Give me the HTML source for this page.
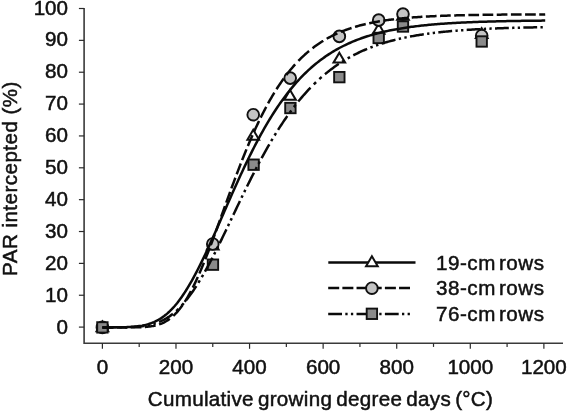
<!DOCTYPE html>
<html><head><meta charset="utf-8"><title>PAR intercepted</title>
<style>
html,body{margin:0;padding:0;background:#fff;}
body{width:567px;height:411px;position:relative;overflow:hidden;font-family:"Liberation Sans",sans-serif;color:#111;}
</style></head><body>
<svg width="567" height="411" viewBox="0 0 567 411" style="position:absolute;left:0;top:0;will-change:transform;opacity:0.999">
<g stroke="#3a3a3a" stroke-width="1.6" fill="none">
<path d="M84.1,7.90 L84.1,343.2 L563,343.2"/>
</g>
<g stroke="#2a2a2a" stroke-width="1.2" fill="none">
<path d="M78.90,327.10 L84.1,327.10"/>
<path d="M78.90,295.24 L84.1,295.24"/>
<path d="M78.90,263.38 L84.1,263.38"/>
<path d="M78.90,231.52 L84.1,231.52"/>
<path d="M78.90,199.66 L84.1,199.66"/>
<path d="M78.90,167.80 L84.1,167.80"/>
<path d="M78.90,135.94 L84.1,135.94"/>
<path d="M78.90,104.08 L84.1,104.08"/>
<path d="M78.90,72.22 L84.1,72.22"/>
<path d="M78.90,40.36 L84.1,40.36"/>
<path d="M78.90,8.50 L84.1,8.50"/>
<path d="M102.40,343.2 L102.40,348.8"/>
<path d="M139.19,343.2 L139.19,346.9"/>
<path d="M175.98,343.2 L175.98,348.8"/>
<path d="M212.77,343.2 L212.77,346.9"/>
<path d="M249.56,343.2 L249.56,348.8"/>
<path d="M286.35,343.2 L286.35,346.9"/>
<path d="M323.14,343.2 L323.14,348.8"/>
<path d="M359.93,343.2 L359.93,346.9"/>
<path d="M396.72,343.2 L396.72,348.8"/>
<path d="M433.51,343.2 L433.51,346.9"/>
<path d="M470.30,343.2 L470.30,348.8"/>
<path d="M507.09,343.2 L507.09,346.9"/>
<path d="M543.88,343.2 L543.88,348.8"/>
</g>
<path d="M102.40,321.40 L108.24,331.35 L96.56,331.35 Z" fill="#fff" stroke="#111" stroke-width="2.0" stroke-linejoin="miter"/>
<circle cx="102.40" cy="327.40" r="5.85" fill="#c4c4c4" stroke="#111" stroke-width="1.9"/>
<rect x="97.20" y="322.20" width="10.4" height="10.4" fill="#8a8a8a" stroke="#111" stroke-width="1.9"/>
<path d="M212.77,239.57 L218.61,249.52 L206.93,249.52 Z" fill="#fff" stroke="#111" stroke-width="2.0" stroke-linejoin="miter"/>
<circle cx="212.77" cy="243.98" r="5.85" fill="#c4c4c4" stroke="#111" stroke-width="1.9"/>
<rect x="207.75" y="259.48" width="10.4" height="10.4" fill="#8a8a8a" stroke="#111" stroke-width="1.9"/>
<path d="M253.24,129.72 L259.08,139.67 L247.40,139.67 Z" fill="#fff" stroke="#111" stroke-width="2.0" stroke-linejoin="miter"/>
<circle cx="253.24" cy="114.71" r="5.85" fill="#c4c4c4" stroke="#111" stroke-width="1.9"/>
<rect x="248.41" y="159.50" width="10.4" height="10.4" fill="#8a8a8a" stroke="#111" stroke-width="1.9"/>
<path d="M290.03,89.92 L295.87,99.87 L284.19,99.87 Z" fill="#fff" stroke="#111" stroke-width="2.0" stroke-linejoin="miter"/>
<circle cx="290.21" cy="78.09" r="5.85" fill="#c4c4c4" stroke="#111" stroke-width="1.9"/>
<rect x="285.20" y="102.82" width="10.4" height="10.4" fill="#8a8a8a" stroke="#111" stroke-width="1.9"/>
<path d="M339.33,52.67 L345.17,62.62 L333.49,62.62 Z" fill="#fff" stroke="#111" stroke-width="2.0" stroke-linejoin="miter"/>
<circle cx="339.33" cy="36.38" r="5.85" fill="#c4c4c4" stroke="#111" stroke-width="1.9"/>
<rect x="334.13" y="71.94" width="10.4" height="10.4" fill="#8a8a8a" stroke="#111" stroke-width="1.9"/>
<path d="M378.69,23.70 L384.53,33.65 L372.85,33.65 Z" fill="#fff" stroke="#111" stroke-width="2.0" stroke-linejoin="miter"/>
<circle cx="378.69" cy="20.14" r="5.85" fill="#c4c4c4" stroke="#111" stroke-width="1.9"/>
<rect x="373.49" y="32.77" width="10.4" height="10.4" fill="#8a8a8a" stroke="#111" stroke-width="1.9"/>
<path d="M402.97,9.69 L408.81,19.64 L397.13,19.64 Z" fill="#fff" stroke="#111" stroke-width="2.0" stroke-linejoin="miter"/>
<circle cx="402.97" cy="14.09" r="5.85" fill="#c4c4c4" stroke="#111" stroke-width="1.9"/>
<rect x="397.77" y="21.31" width="10.4" height="10.4" fill="#8a8a8a" stroke="#111" stroke-width="1.9"/>
<path d="M481.70,28.15 L487.54,38.10 L475.86,38.10 Z" fill="#fff" stroke="#111" stroke-width="2.0" stroke-linejoin="miter"/>
<circle cx="481.70" cy="35.75" r="5.85" fill="#c4c4c4" stroke="#111" stroke-width="1.9"/>
<rect x="476.50" y="36.28" width="10.4" height="10.4" fill="#8a8a8a" stroke="#111" stroke-width="1.9"/>
<g fill="none" stroke="#0a0a0a" stroke-width="2.5">
<path d="M102.40,327.40 L103.87,327.40 L105.34,327.39 L106.81,327.39 L108.29,327.39 L109.76,327.38 L111.23,327.38 L112.70,327.37 L114.17,327.36 L115.64,327.35 L117.12,327.34 L118.59,327.32 L120.06,327.30 L121.53,327.28 L123.00,327.24 L124.47,327.20 L125.95,327.16 L127.42,327.10 L128.89,327.03 L130.36,326.95 L131.83,326.86 L133.30,326.75 L134.78,326.62 L136.25,326.47 L137.72,326.30 L139.19,326.10 L140.66,325.87 L142.13,325.62 L143.60,325.33 L145.08,325.00 L146.55,324.63 L148.02,324.22 L149.49,323.76 L150.96,323.26 L152.43,322.70 L153.91,322.09 L155.38,321.42 L156.85,320.68 L158.32,319.89 L159.79,319.02 L161.26,318.09 L162.74,317.08 L164.21,316.00 L165.68,314.84 L167.15,313.61 L168.62,312.29 L170.09,310.90 L171.57,309.42 L173.04,307.85 L174.51,306.21 L175.98,304.48 L177.45,302.67 L178.92,300.77 L180.39,298.79 L181.87,296.72 L183.34,294.58 L184.81,292.35 L186.28,290.04 L187.75,287.66 L189.22,285.20 L190.70,282.67 L192.17,280.07 L193.64,277.40 L195.11,274.66 L196.58,271.86 L198.05,269.00 L199.53,266.09 L201.00,263.12 L202.47,260.10 L203.94,257.03 L205.41,253.92 L206.88,250.77 L208.36,247.58 L209.83,244.36 L211.30,241.11 L212.77,237.84 L214.24,234.54 L215.71,231.22 L217.18,227.88 L218.66,224.54 L220.13,221.18 L221.60,217.82 L223.07,214.45 L224.54,211.08 L226.01,207.72 L227.49,204.36 L228.96,201.01 L230.43,197.68 L231.90,194.35 L233.37,191.04 L234.84,187.75 L236.32,184.49 L237.79,181.24 L239.26,178.02 L240.73,174.82 L242.20,171.66 L243.67,168.52 L245.15,165.41 L246.62,162.34 L248.09,159.31 L249.56,156.30 L251.03,153.34 L252.50,150.41 L253.97,147.52 L255.45,144.68 L256.92,141.87 L258.39,139.10 L259.86,136.38 L261.33,133.69 L262.80,131.05 L264.28,128.45 L265.75,125.90 L267.22,123.39 L268.69,120.92 L270.16,118.50 L271.63,116.12 L273.11,113.79 L274.58,111.50 L276.05,109.25 L277.52,107.05 L278.99,104.89 L280.46,102.77 L281.94,100.70 L283.41,98.66 L284.88,96.67 L286.35,94.73 L287.82,92.82 L289.29,90.96 L290.76,89.13 L292.24,87.35 L293.71,85.60 L295.18,83.90 L296.65,82.23 L298.12,80.60 L299.59,79.01 L301.07,77.45 L302.54,75.93 L304.01,74.45 L305.48,73.00 L306.95,71.59 L308.42,70.21 L309.90,68.86 L311.37,67.55 L312.84,66.27 L314.31,65.02 L315.78,63.80 L317.25,62.61 L318.73,61.46 L320.20,60.33 L321.67,59.23 L323.14,58.15 L324.61,57.11 L326.08,56.09 L327.55,55.10 L329.03,54.13 L330.50,53.19 L331.97,52.27 L333.44,51.38 L334.91,50.51 L336.38,49.66 L337.86,48.84 L339.33,48.03 L340.80,47.25 L342.27,46.49 L343.74,45.75 L345.21,45.03 L346.69,44.33 L348.16,43.65 L349.63,42.99 L351.10,42.34 L352.57,41.71 L354.04,41.10 L355.52,40.51 L356.99,39.93 L358.46,39.37 L359.93,38.82 L361.40,38.29 L362.87,37.77 L364.34,37.27 L365.82,36.78 L367.29,36.31 L368.76,35.84 L370.23,35.40 L371.70,34.96 L373.17,34.53 L374.65,34.12 L376.12,33.72 L377.59,33.33 L379.06,32.95 L380.53,32.58 L382.00,32.23 L383.48,31.88 L384.95,31.54 L386.42,31.21 L387.89,30.89 L389.36,30.58 L390.83,30.28 L392.31,29.99 L393.78,29.71 L395.25,29.43 L396.72,29.16 L398.19,28.90 L399.66,28.65 L401.13,28.40 L402.61,28.16 L404.08,27.93 L405.55,27.70 L407.02,27.48 L408.49,27.27 L409.96,27.06 L411.44,26.86 L412.91,26.67 L414.38,26.48 L415.85,26.30 L417.32,26.12 L418.79,25.94 L420.27,25.77 L421.74,25.61 L423.21,25.45 L424.68,25.30 L426.15,25.15 L427.62,25.00 L429.10,24.86 L430.57,24.72 L432.04,24.59 L433.51,24.46 L434.98,24.33 L436.45,24.21 L437.92,24.09 L439.40,23.98 L440.87,23.87 L442.34,23.76 L443.81,23.65 L445.28,23.55 L446.75,23.45 L448.23,23.35 L449.70,23.26 L451.17,23.17 L452.64,23.08 L454.11,23.00 L455.58,22.91 L457.06,22.83 L458.53,22.75 L460.00,22.68 L461.47,22.60 L462.94,22.53 L464.41,22.46 L465.89,22.39 L467.36,22.33 L468.83,22.26 L470.30,22.20 L471.77,22.14 L473.24,22.08 L474.71,22.03 L476.19,21.97 L477.66,21.92 L479.13,21.87 L480.60,21.82 L482.07,21.77 L483.54,21.72 L485.02,21.67 L486.49,21.63 L487.96,21.58 L489.43,21.54 L490.90,21.50 L492.37,21.46 L493.85,21.42 L495.32,21.39 L496.79,21.35 L498.26,21.31 L499.73,21.28 L501.20,21.25 L502.68,21.21 L504.15,21.18 L505.62,21.15 L507.09,21.12 L508.56,21.09 L510.03,21.07 L511.50,21.04 L512.98,21.01 L514.45,20.99 L515.92,20.96 L517.39,20.94 L518.86,20.92 L520.33,20.89 L521.81,20.87 L523.28,20.85 L524.75,20.83 L526.22,20.81 L527.69,20.79 L529.16,20.77 L530.64,20.75 L532.11,20.73 L533.58,20.72 L535.05,20.70 L536.52,20.68 L537.99,20.67 L539.47,20.65 L540.94,20.64 L542.41,20.62 L543.88,20.61 L545.20,20.60"/>
<path d="M102.40,327.40 L103.50,327.40 L104.61,327.40 L105.71,327.40 L106.82,327.40 L107.92,327.40 L109.02,327.40 L110.13,327.40 L111.23,327.40 L112.33,327.40 L113.10,327.40 M116.57,327.40 L116.75,327.40 L117.85,327.40 L118.96,327.40 L120.06,327.40 L121.16,327.40 L122.27,327.40 L123.37,327.39 L124.48,327.39 L125.58,327.39 L126.68,327.39 L127.27,327.39 M130.74,327.37 L131.10,327.37 L132.20,327.36 L133.31,327.35 L134.41,327.33 L135.51,327.32 L136.62,327.29 L137.72,327.27 L138.82,327.24 L139.93,327.21 L141.03,327.16 L141.44,327.15 M144.91,326.95 L145.45,326.91 L146.55,326.82 L147.66,326.72 L148.76,326.60 L149.86,326.46 L150.97,326.31 L152.07,326.13 L153.17,325.94 L154.28,325.71 L155.38,325.46 L155.61,325.41 M159.08,324.41 L159.80,324.16 L160.90,323.75 L162.00,323.30 L163.11,322.80 L164.21,322.26 L165.32,321.68 L166.42,321.04 L167.52,320.36 L168.63,319.62 L169.73,318.83 L169.78,318.79 M173.25,315.91 L174.15,315.06 L175.25,313.97 L176.35,312.81 L177.46,311.59 L178.56,310.30 L179.66,308.94 L180.77,307.51 L181.87,306.02 L182.40,305.27 M184.75,301.80 L185.18,301.12 L186.29,299.35 L187.39,297.52 L188.49,295.61 L189.60,293.64 L190.70,291.61 L190.97,291.10 M192.77,287.63 L192.91,287.35 L194.01,285.12 L195.12,282.84 L196.22,280.49 L197.33,278.09 L197.85,276.93 M199.39,273.46 L199.53,273.13 L200.64,270.57 L201.74,267.97 L202.84,265.31 L203.89,262.76 M205.28,259.29 L206.16,257.10 L207.26,254.28 L208.36,251.43 L209.45,248.59 M210.77,245.12 L211.67,242.70 L212.78,239.74 L213.88,236.76 L214.74,234.42 M216.01,230.95 L216.09,230.74 L217.19,227.70 L218.30,224.66 L219.40,221.61 L219.89,220.25 M221.14,216.78 L221.61,215.48 L222.71,212.41 L223.82,209.34 L224.92,206.28 L224.99,206.08 M226.24,202.61 L227.13,200.16 L228.23,197.11 L229.33,194.07 L230.12,191.91 M231.39,188.44 L231.54,188.03 L232.65,185.04 L233.75,182.06 L234.85,179.09 L235.36,177.74 M236.67,174.27 L237.06,173.23 L238.17,170.33 L239.27,167.46 L240.37,164.61 L240.78,163.57 M242.14,160.10 L242.58,158.99 L243.68,156.22 L244.79,153.48 L245.89,150.77 L246.45,149.40 M247.90,145.93 L248.10,145.45 L249.20,142.83 L250.31,140.25 L251.41,137.70 L252.49,135.23 M254.04,131.76 L254.72,130.26 L255.83,127.84 L256.93,125.47 L258.03,123.12 L259.02,121.06 M260.71,117.59 L261.34,116.31 L262.45,114.11 L263.55,111.95 L264.66,109.82 L265.76,107.73 L266.20,106.89 M268.09,103.42 L269.07,101.66 L270.17,99.71 L271.28,97.80 L272.38,95.92 L273.49,94.07 L274.31,92.72 M276.47,89.25 L276.80,88.74 L277.90,87.03 L279.00,85.35 L280.11,83.71 L281.21,82.10 L282.32,80.52 L283.42,78.97 L283.72,78.55 M286.30,75.08 L286.73,74.51 L287.84,73.09 L288.94,71.69 L290.04,70.33 L291.15,68.99 L292.25,67.68 L293.35,66.40 L294.46,65.15 L295.15,64.38 M298.38,60.91 L298.87,60.41 L299.98,59.29 L301.08,58.19 L302.18,57.12 L303.29,56.07 L304.39,55.05 L305.50,54.05 L306.60,53.07 L307.70,52.11 L308.81,51.18 L309.05,50.98 M312.52,48.19 L313.22,47.65 L314.33,46.82 L315.43,46.01 L316.53,45.22 L317.64,44.45 L318.74,43.69 L319.84,42.95 L320.95,42.23 L322.05,41.53 L323.16,40.85 L323.22,40.81 M326.69,38.76 L327.57,38.26 L328.68,37.66 L329.78,37.07 L330.88,36.49 L331.99,35.92 L333.09,35.37 L334.19,34.84 L335.30,34.31 L336.40,33.80 L337.39,33.36 M340.86,31.87 L341.92,31.43 L343.02,31.00 L344.13,30.57 L345.23,30.15 L346.34,29.74 L347.44,29.34 L348.54,28.96 L349.65,28.58 L350.75,28.21 L351.56,27.95 M355.03,26.87 L355.17,26.83 L356.27,26.51 L357.37,26.19 L358.48,25.88 L359.58,25.58 L360.68,25.29 L361.79,25.00 L362.89,24.73 L364.00,24.46 L365.10,24.19 L365.73,24.05 M369.20,23.27 L369.51,23.20 L370.62,22.97 L371.72,22.74 L372.83,22.52 L373.93,22.31 L375.03,22.10 L376.14,21.90 L377.24,21.70 L378.35,21.51 L379.45,21.32 L379.90,21.24 M383.37,20.69 L383.86,20.61 L384.97,20.44 L386.07,20.28 L387.18,20.13 L388.28,19.97 L389.38,19.82 L390.49,19.68 L391.59,19.54 L392.69,19.40 L393.80,19.27 L394.07,19.23 M397.54,18.84 L398.21,18.76 L399.32,18.65 L400.42,18.53 L401.52,18.42 L402.63,18.31 L403.73,18.20 L404.84,18.10 L405.94,18.00 L407.04,17.90 L408.15,17.81 L408.24,17.80 M411.71,17.52 L412.56,17.45 L413.67,17.37 L414.77,17.29 L415.87,17.21 L416.98,17.13 L418.08,17.05 L419.19,16.98 L420.29,16.91 L421.39,16.84 L422.41,16.78 M425.88,16.57 L426.91,16.52 L428.02,16.46 L429.12,16.40 L430.22,16.34 L431.33,16.29 L432.43,16.24 L433.53,16.18 L434.64,16.13 L435.74,16.08 L436.58,16.05 M440.05,15.90 L440.16,15.90 L441.26,15.86 L442.36,15.81 L443.47,15.77 L444.57,15.73 L445.68,15.70 L446.78,15.66 L447.88,15.62 L448.99,15.58 L450.09,15.55 L450.75,15.53 M454.22,15.43 L454.51,15.42 L455.61,15.39 L456.71,15.36 L457.82,15.33 L458.92,15.30 L460.02,15.27 L461.13,15.25 L462.23,15.22 L463.34,15.20 L464.44,15.17 L464.92,15.16 M468.39,15.09 L468.86,15.08 L469.96,15.06 L471.06,15.04 L472.17,15.02 L473.27,15.00 L474.37,14.98 L475.48,14.96 L476.58,14.94 L477.69,14.92 L478.79,14.90 L479.09,14.90 M482.56,14.85 L483.20,14.84 L484.31,14.82 L485.41,14.81 L486.52,14.79 L487.62,14.78 L488.72,14.76 L489.83,14.75 L490.93,14.74 L492.03,14.73 L493.14,14.71 L493.26,14.71 M496.73,14.67 L497.55,14.67 L498.66,14.66 L499.76,14.65 L500.86,14.63 L501.97,14.62 L503.07,14.62 L504.18,14.61 L505.28,14.60 L506.38,14.59 L507.43,14.58 M510.90,14.55 L511.90,14.55 L513.01,14.54 L514.11,14.53 L515.21,14.52 L516.32,14.52 L517.42,14.51 L518.53,14.50 L519.63,14.50 L520.73,14.49 L521.60,14.48 M525.07,14.47 L525.15,14.47 L526.25,14.46 L527.36,14.45 L528.46,14.45 L529.56,14.44 L530.67,14.44 L531.77,14.43 L532.87,14.43 L533.98,14.43 L535.08,14.42 L535.77,14.42 M539.24,14.40 L539.50,14.40 L540.60,14.40 L541.70,14.40 L542.81,14.39 L543.91,14.39 L545.02,14.39 L545.20,14.38"/>
<path d="M102.40,327.40 L103.50,327.40 L104.61,327.40 L105.71,327.40 L106.82,327.39 L107.92,327.39 L109.02,327.39 L110.13,327.39 L111.23,327.39 L112.33,327.38 L113.44,327.38 L114.54,327.37 L115.65,327.37 L116.20,327.37 M119.51,327.34 L120.06,327.33 L121.16,327.32 L121.81,327.31 M125.12,327.26 L125.58,327.25 L126.68,327.22 L127.42,327.20 M130.74,327.09 L131.10,327.08 L132.20,327.03 L133.31,326.97 L134.41,326.91 L135.51,326.84 L136.62,326.77 L137.72,326.68 L138.82,326.58 L139.93,326.48 L141.03,326.36 L142.14,326.23 L143.24,326.09 L144.34,325.93 L144.54,325.90 M147.85,325.33 L148.76,325.15 L149.86,324.90 L150.15,324.84 M153.46,323.98 L154.28,323.73 L155.38,323.38 L155.76,323.26 M159.08,322.02 L159.80,321.72 L160.90,321.23 L162.00,320.71 L163.11,320.16 L164.21,319.58 L165.32,318.97 L166.42,318.32 L167.52,317.64 L168.63,316.92 L169.73,316.16 L170.83,315.37 L171.94,314.54 L172.88,313.80 M176.19,310.98 L176.35,310.83 L177.46,309.81 L178.49,308.81 M181.68,305.51 L181.87,305.30 L182.98,304.07 L183.73,303.21 M186.49,299.89 L187.39,298.75 L188.49,297.32 L189.60,295.85 L190.70,294.34 L191.81,292.79 L192.91,291.21 L194.01,289.58 L195.12,287.92 L196.22,286.23 L196.31,286.09 M198.40,282.78 L198.43,282.73 L199.53,280.93 L199.80,280.48 M201.77,277.17 L202.84,275.33 L203.11,274.87 M204.99,271.55 L205.05,271.44 L206.16,269.46 L207.26,267.45 L208.36,265.41 L209.47,263.35 L210.57,261.26 L211.67,259.15 L212.40,257.75 M214.10,254.44 L214.99,252.70 L215.27,252.14 M216.93,248.83 L217.19,248.30 L218.08,246.53 M219.72,243.21 L220.50,241.60 L221.61,239.34 L222.71,237.07 L223.82,234.79 L224.92,232.50 L226.02,230.20 L226.40,229.41 M227.99,226.10 L228.23,225.59 L229.09,223.80 M230.66,220.49 L231.54,218.64 L231.76,218.19 M233.34,214.87 L233.75,214.01 L234.85,211.69 L235.96,209.38 L237.06,207.06 L238.17,204.76 L239.27,202.45 L239.93,201.07 M241.53,197.76 L242.58,195.58 L242.64,195.46 M244.25,192.15 L244.79,191.04 L245.37,189.85 M247.00,186.53 L248.10,184.31 L249.20,182.09 L250.31,179.88 L251.41,177.68 L252.51,175.50 L253.62,173.33 L253.93,172.73 M255.63,169.42 L255.83,169.04 L256.83,167.12 M258.57,163.81 L259.14,162.73 L259.79,161.51 M261.57,158.19 L262.45,156.57 L263.55,154.55 L264.66,152.56 L265.76,150.58 L266.86,148.62 L267.97,146.68 L269.07,144.76 L269.28,144.39 M271.22,141.08 L271.28,140.98 L272.38,139.12 L272.58,138.78 M274.58,135.47 L274.59,135.46 L275.69,133.66 L276.00,133.17 M278.08,129.85 L279.00,128.39 L280.11,126.68 L281.21,124.99 L282.32,123.32 L283.42,121.67 L284.52,120.04 L285.63,118.43 L286.73,116.84 L287.29,116.05 M289.66,112.74 L290.04,112.21 L291.15,110.71 L291.35,110.44 M293.85,107.13 L294.46,106.33 L295.56,104.91 L295.63,104.83 M298.28,101.51 L298.87,100.78 L299.98,99.45 L301.08,98.13 L302.18,96.83 L303.29,95.55 L304.39,94.30 L305.50,93.06 L306.60,91.84 L307.70,90.64 L308.81,89.46 L309.91,88.30 L310.48,87.71 M313.75,84.40 L314.33,83.83 L315.43,82.76 L316.05,82.17 M319.36,79.09 L319.84,78.65 L320.95,77.67 L321.66,77.05 M324.98,74.21 L325.36,73.89 L326.47,72.99 L327.57,72.10 L328.68,71.23 L329.78,70.37 L330.88,69.53 L331.99,68.70 L333.09,67.89 L334.19,67.09 L335.30,66.30 L336.40,65.53 L337.51,64.78 L338.61,64.03 L338.78,63.92 M342.09,61.78 L343.02,61.19 L344.13,60.51 L344.39,60.36 M347.70,58.40 L348.54,57.92 L349.65,57.30 L350.00,57.11 M353.32,55.33 L354.06,54.94 L355.17,54.38 L356.27,53.82 L357.37,53.28 L358.48,52.75 L359.58,52.23 L360.68,51.72 L361.79,51.21 L362.89,50.72 L364.00,50.24 L365.10,49.76 L366.20,49.30 L367.12,48.92 M370.43,47.60 L370.62,47.52 L371.72,47.10 L372.73,46.72 M376.04,45.53 L376.14,45.49 L377.24,45.11 L378.34,44.73 M381.66,43.65 L381.66,43.65 L382.76,43.30 L383.86,42.96 L384.97,42.62 L386.07,42.30 L387.18,41.98 L388.28,41.66 L389.38,41.35 L390.49,41.05 L391.59,40.75 L392.69,40.46 L393.80,40.18 L394.90,39.90 L395.46,39.76 M398.77,38.96 L399.32,38.84 L400.42,38.58 L401.07,38.44 M404.38,37.72 L404.84,37.62 L405.94,37.39 L406.68,37.24 M410.00,36.59 L410.35,36.52 L411.46,36.32 L412.56,36.12 L413.67,35.92 L414.77,35.72 L415.87,35.53 L416.98,35.35 L418.08,35.16 L419.19,34.98 L420.29,34.81 L421.39,34.64 L422.50,34.47 L423.60,34.30 L423.80,34.27 M427.11,33.80 L428.02,33.67 L429.12,33.52 L429.41,33.49 M432.72,33.06 L433.53,32.96 L434.64,32.82 L435.02,32.78 M438.34,32.39 L439.05,32.31 L440.16,32.19 L441.26,32.07 L442.36,31.95 L443.47,31.84 L444.57,31.73 L445.68,31.62 L446.78,31.51 L447.88,31.40 L448.99,31.30 L450.09,31.20 L451.19,31.10 L452.14,31.02 M455.45,30.74 L455.61,30.73 L456.71,30.64 L457.75,30.55 M461.06,30.30 L461.13,30.30 L462.23,30.22 L463.34,30.14 L463.36,30.14 M466.68,29.91 L467.75,29.84 L468.86,29.77 L469.96,29.70 L471.06,29.63 L472.17,29.56 L473.27,29.50 L474.37,29.43 L475.48,29.37 L476.58,29.31 L477.69,29.25 L478.79,29.19 L479.89,29.13 L480.48,29.10 M483.79,28.94 L484.31,28.91 L485.41,28.86 L486.09,28.83 M489.40,28.68 L489.83,28.66 L490.93,28.61 L491.70,28.58 M495.02,28.45 L495.35,28.44 L496.45,28.39 L497.55,28.35 L498.66,28.31 L499.76,28.27 L500.86,28.23 L501.97,28.19 L503.07,28.16 L504.18,28.12 L505.28,28.08 L506.38,28.05 L507.49,28.01 L508.59,27.98 L508.82,27.97 M512.13,27.88 L513.01,27.85 L514.11,27.82 L514.43,27.81 M517.74,27.73 L518.53,27.71 L519.63,27.68 L520.04,27.67 M523.36,27.59 L524.04,27.58 L525.15,27.55 L526.25,27.53 L527.36,27.50 L528.46,27.48 L529.56,27.46 L530.67,27.44 L531.77,27.41 L532.87,27.39 L533.98,27.37 L535.08,27.35 L536.19,27.33 L537.16,27.31 M540.47,27.26 L540.60,27.26 L541.70,27.24 L542.77,27.22"/>
</g>
<g fill="none" stroke="#0a0a0a" stroke-width="2.5">
<path d="M328.3,262.4 L415.5,262.4"/>
<path d="M328.2,288.1 L410,288.1" stroke-dasharray="11.0 3.17"/>
<path d="M328.2,314.0 L410,314.0" stroke-dasharray="13.8 3.31 2.3 3.31 2.3 3.32"/>
</g>
<path d="M371.90,256.30 L377.74,266.25 L366.06,266.25 Z" fill="#fff" stroke="#111" stroke-width="2.0" stroke-linejoin="miter"/>
<circle cx="371.90" cy="288.20" r="5.85" fill="#c4c4c4" stroke="#111" stroke-width="1.9"/>
<rect x="366.70" y="308.60" width="10.4" height="10.4" fill="#8a8a8a" stroke="#111" stroke-width="1.9"/>
<g font-family="Liberation Sans, sans-serif" fill="#111" stroke="#111" stroke-width="0.5"><text x="68.0" y="334.1" text-anchor="end" font-size="20.6" letter-spacing="0" word-spacing="0">0</text>
<text x="68.0" y="302.14" text-anchor="end" font-size="20.6" letter-spacing="0" word-spacing="0">10</text>
<text x="68.0" y="270.18" text-anchor="end" font-size="20.6" letter-spacing="0" word-spacing="0">20</text>
<text x="68.0" y="238.22" text-anchor="end" font-size="20.6" letter-spacing="0" word-spacing="0">30</text>
<text x="68.0" y="206.26" text-anchor="end" font-size="20.6" letter-spacing="0" word-spacing="0">40</text>
<text x="68.0" y="174.3" text-anchor="end" font-size="20.6" letter-spacing="0" word-spacing="0">50</text>
<text x="68.0" y="142.34" text-anchor="end" font-size="20.6" letter-spacing="0" word-spacing="0">60</text>
<text x="68.0" y="110.38" text-anchor="end" font-size="20.6" letter-spacing="0" word-spacing="0">70</text>
<text x="68.0" y="78.42" text-anchor="end" font-size="20.6" letter-spacing="0" word-spacing="0">80</text>
<text x="68.0" y="46.46" text-anchor="end" font-size="20.6" letter-spacing="0" word-spacing="0">90</text>
<text x="68.0" y="14.5" text-anchor="end" font-size="20.6" letter-spacing="0" word-spacing="0">100</text>
<text x="102.4" y="373.5" text-anchor="middle" font-size="20.6" letter-spacing="0" word-spacing="0">0</text>
<text x="175.98" y="373.5" text-anchor="middle" font-size="20.6" letter-spacing="0" word-spacing="0">200</text>
<text x="249.56" y="373.5" text-anchor="middle" font-size="20.6" letter-spacing="0" word-spacing="0">400</text>
<text x="323.14" y="373.5" text-anchor="middle" font-size="20.6" letter-spacing="0" word-spacing="0">600</text>
<text x="396.72" y="373.5" text-anchor="middle" font-size="20.6" letter-spacing="0" word-spacing="0">800</text>
<text x="470.3" y="373.5" text-anchor="middle" font-size="20.6" letter-spacing="0" word-spacing="0">1000</text>
<text x="543.88" y="373.5" text-anchor="middle" font-size="20.6" letter-spacing="0" word-spacing="0">1200</text>
<text x="147.8" y="405.8" text-anchor="start" font-size="20.6" letter-spacing="0.3" word-spacing="-1.9">Cumulative growing degree days (°C)</text>
<text x="435.9" y="270.2" text-anchor="start" font-size="20.6" letter-spacing="0.55" word-spacing="-3.2">19-cm rows</text>
<text x="435.9" y="295.3" text-anchor="start" font-size="20.6" letter-spacing="0.55" word-spacing="-3.2">38-cm rows</text>
<text x="435.9" y="321.4" text-anchor="start" font-size="20.6" letter-spacing="0.55" word-spacing="-3.2">76-cm rows</text>
<text x="0" y="0" font-size="20.6" letter-spacing="0.45" transform="translate(16.7,275.9) rotate(-90)">PAR intercepted (%)</text></g>
</svg>


</body></html>
